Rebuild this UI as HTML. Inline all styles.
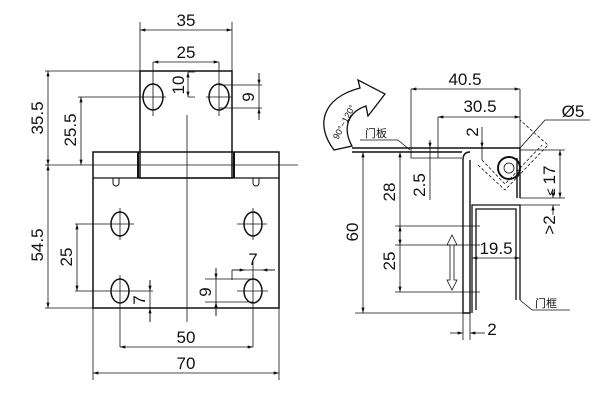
<!DOCTYPE html>
<html><head><meta charset="utf-8"><style>
html,body{margin:0;padding:0;background:#fff;width:600px;height:401px;overflow:hidden}
svg{display:block}
text{font-family:"Liberation Sans","Noto Sans CJK SC",sans-serif;fill:#111}
</style></head><body>
<svg width="600" height="401" viewBox="0 0 600 401" xmlns="http://www.w3.org/2000/svg">
<defs>
<marker id="a" viewBox="0 0 10 6" refX="10" refY="3" markerWidth="8" markerHeight="4" orient="auto-start-reverse"><path d="M0,0L10,3L0,6z" fill="#111"/></marker>
</defs>
<g stroke="#111" fill="none" stroke-width="0.8">
<rect x="140" y="71" width="92" height="107" stroke-width="1.5"/>
<rect x="93" y="152" width="186" height="156" stroke-width="1.5"/>
<line x1="93" y1="178" x2="279" y2="178" stroke-width="1.3"/>
<line x1="138" y1="152" x2="138" y2="178" stroke-width="2"/>
<line x1="234" y1="152" x2="234" y2="178" stroke-width="2"/>
<path d="M113,178v5a3,3 0 0 0 6,0v-5M253,178v5a3,3 0 0 0 6,0v-5" stroke-width="1"/>
<ellipse cx="153" cy="97" rx="10" ry="13" stroke-width="1.5"/>
<ellipse cx="219" cy="97" rx="10" ry="13" stroke-width="1.5"/>
<ellipse cx="120" cy="224" rx="9" ry="12" stroke-width="1.5"/>
<ellipse cx="253" cy="224" rx="9" ry="12" stroke-width="1.5"/>
<ellipse cx="120" cy="291" rx="9" ry="12" stroke-width="1.5"/>
<ellipse cx="253" cy="291" rx="9" ry="12" stroke-width="1.5"/>
<path d="M153,62V116M140,97H166M219,62V116M206,97H232M120,208V240M107,224H134M253,208V240M237,224H267M120,275V347M106,291H153M253,275V347M237,291H268"/>
<line x1="187" y1="115" x2="187" y2="322"/>
<line x1="45" y1="165" x2="298" y2="165"/>
<path d="M140,71V22M232,71V22M45,71H140M78,97H140M45,308H93M75,291H107M75,224H107M93,308V380M279,308V380M188,72H195M188,97H195M219,85H262M219,108H262M205,279H253M205,302H253M232,270V280M253,262V280"/>
<line x1="140" y1="30" x2="232" y2="30" marker-start="url(#a)" marker-end="url(#a)"/>
<line x1="153" y1="62" x2="219" y2="62" marker-start="url(#a)" marker-end="url(#a)"/>
<line x1="188" y1="72" x2="188" y2="97" marker-start="url(#a)" marker-end="url(#a)"/>
<line x1="259" y1="73" x2="259" y2="120"/>
<line x1="259" y1="73" x2="259" y2="85" marker-end="url(#a)"/>
<line x1="259" y1="120" x2="259" y2="108" marker-end="url(#a)"/>
<line x1="48" y1="71" x2="48" y2="165" marker-start="url(#a)" marker-end="url(#a)"/>
<line x1="81" y1="97" x2="81" y2="165" marker-start="url(#a)" marker-end="url(#a)"/>
<line x1="48" y1="165" x2="48" y2="308" marker-start="url(#a)" marker-end="url(#a)"/>
<line x1="77" y1="224" x2="77" y2="291" marker-start="url(#a)" marker-end="url(#a)"/>
<line x1="150" y1="280" x2="150" y2="322"/>
<line x1="150" y1="280" x2="150" y2="291" marker-end="url(#a)"/>
<line x1="150" y1="322" x2="150" y2="308" marker-end="url(#a)"/>
<line x1="216" y1="268" x2="216" y2="316"/>
<line x1="216" y1="268" x2="216" y2="279" marker-end="url(#a)"/>
<line x1="216" y1="316" x2="216" y2="302" marker-end="url(#a)"/>
<line x1="232" y1="270" x2="275" y2="270"/>
<line x1="275" y1="270" x2="262" y2="270" marker-end="url(#a)"/>
<line x1="232" y1="270" x2="245" y2="270" marker-end="url(#a)"/>
<line x1="120" y1="347" x2="253" y2="347" marker-start="url(#a)" marker-end="url(#a)"/>
<line x1="93" y1="373" x2="279" y2="373" marker-start="url(#a)" marker-end="url(#a)"/>

<path d="M352,148H520M352,152H462" stroke-width="1.4"/>
<path d="M462,158H411V89M520,89V150" />
<path d="M470,152Q463,152 463,160V313H470V160" stroke-width="1.4"/>
<path d="M472,313V205H520V300M476,310V209H516V300" stroke-width="1.3"/>
<path d="M520,148V198M517,158V198" stroke-width="1.4"/>
<circle cx="509" cy="168" r="11" stroke-width="2"/>
<circle cx="509" cy="168" r="5"/>
<path d="M478,165L505,190L548,145L520,120" stroke-dasharray="3,2"/>
<path d="M482,160L505,184L542,145" stroke-dasharray="3,2"/>
<path d="M334,150C315,125 322,98 360,88L358,80L385,94L368,116L366,106C348,112 342,128 352,146Z" stroke-width="1.3"/>
<path d="M438,117V158M430,148V200M482,127V160M355,313H470M395,152H411M395,245H480M395,226H480M395,292H480M520,150H565M520,198H565M520,205H560M472,250V265M463,313V340M470,313V340"/>
<line x1="411" y1="89" x2="520" y2="89" marker-start="url(#a)" marker-end="url(#a)"/>
<line x1="438" y1="117" x2="520" y2="117" marker-start="url(#a)" marker-end="url(#a)"/>
<line x1="363" y1="152" x2="363" y2="313" marker-start="url(#a)" marker-end="url(#a)"/>
<line x1="400" y1="152" x2="400" y2="245" marker-start="url(#a)" marker-end="url(#a)"/>
<line x1="400" y1="226" x2="400" y2="292" marker-start="url(#a)" marker-end="url(#a)"/>
<line x1="430" y1="140" x2="430" y2="148" marker-end="url(#a)"/>
<line x1="482" y1="140" x2="482" y2="148" marker-end="url(#a)"/>
<line x1="560" y1="150" x2="560" y2="198" marker-start="url(#a)" marker-end="url(#a)"/>
<line x1="553" y1="190" x2="553" y2="198" marker-end="url(#a)"/>
<line x1="553" y1="215" x2="553" y2="205" marker-end="url(#a)"/>
<line x1="472" y1="258" x2="520" y2="258" marker-start="url(#a)" marker-end="url(#a)"/>
<line x1="450" y1="333" x2="463" y2="333" marker-end="url(#a)"/>
<line x1="485" y1="333" x2="470" y2="333" marker-end="url(#a)"/>
<path d="M452,235L447,245H450V280H447L452,290L457,280H454V245H457Z"/>
<path d="M360,140H398L410,150M520,148L545,120H590M520,300L532,310H570"/>
</g>
<g font-size="17" text-anchor="middle">
<text x="186" y="26">35</text>
<text x="186" y="58">25</text>
<text transform="translate(184,85) rotate(-90)">10</text>
<text transform="translate(254,97) rotate(-90)">9</text>
<text transform="translate(43,118) rotate(-90)">35.5</text>
<text transform="translate(76,130) rotate(-90)">25.5</text>
<text transform="translate(43,245) rotate(-90)">54.5</text>
<text transform="translate(72,257) rotate(-90)">25</text>
<text transform="translate(145,300) rotate(-90)">7</text>
<text transform="translate(211,292) rotate(-90)">9</text>
<text x="253" y="265">7</text>
<text x="186" y="343">50</text>
<text x="186" y="369">70</text>
<text x="465" y="85">40.5</text>
<text x="480" y="112">30.5</text>
<text transform="translate(358,232) rotate(-90)">60</text>
<text transform="translate(395,192) rotate(-90)">28</text>
<text transform="translate(395,261) rotate(-90)">25</text>
<text transform="translate(425,185) rotate(-90)">2.5</text>
<text transform="translate(478,132) rotate(-90)">2</text>
<text transform="translate(555,175) rotate(-90)">17</text>
<text transform="translate(555,192) rotate(-90)" font-size="13">≤</text>
<text transform="translate(555,225) rotate(-90)">&gt;2</text>
<text x="496" y="254">19.5</text>
<text x="492" y="335">2</text>
<text x="573" y="117">Ø5</text>
</g>
<g font-size="11">
<text x="365" y="137">门板</text>
<text x="535" y="307">门框</text>
<text transform="translate(338,140) rotate(-62)" font-size="9">90°~120°</text>
</g>
</svg>
</body></html>
